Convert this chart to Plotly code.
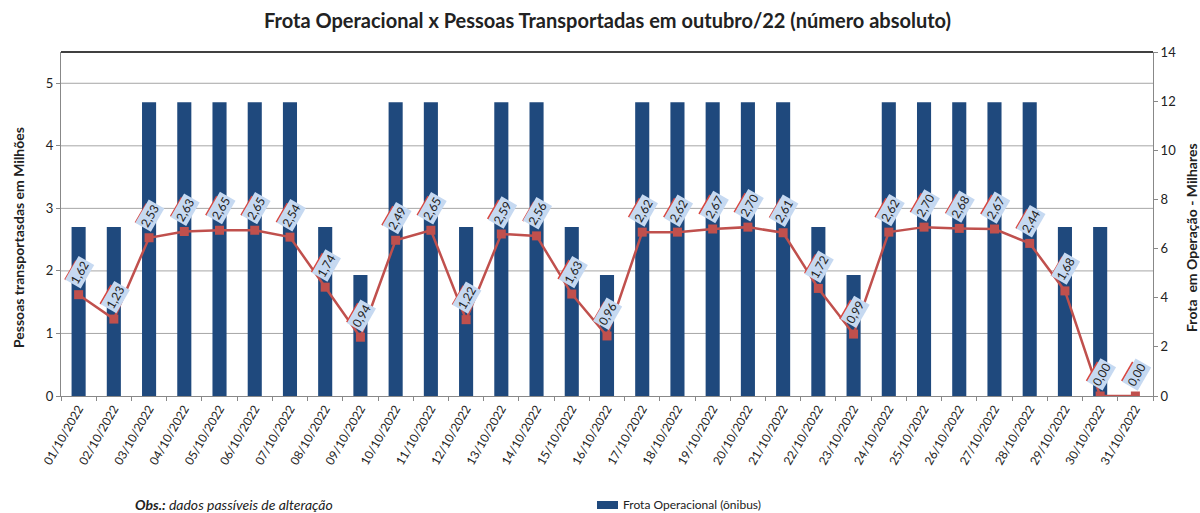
import plotly.graph_objects as go

dates = [f"{d:02d}/10/2022" for d in range(1, 32)]
pessoas = [1.62, 1.23, 2.53, 2.63, 2.65, 2.65, 2.54, 1.74, 0.94, 2.49, 2.65,
           1.22, 2.59, 2.56, 1.63, 0.96, 2.62, 2.62, 2.67, 2.70, 2.61, 1.72,
           0.99, 2.62, 2.70, 2.68, 2.67, 2.44, 1.68, 0.00, 0.00]
frota = [6.88, 6.88, 11.95, 11.95, 11.95, 11.95, 11.95, 6.88, 4.92, 11.95, 11.95,
         6.88, 11.95, 11.95, 6.88, 4.92, 11.95, 11.95, 11.95, 11.95, 11.95, 6.88,
         4.92, 11.95, 11.95, 11.95, 11.95, 11.95, 6.88, 6.88, 0.0]
left_ticks = [0, 1, 2, 3, 4, 5]
right_ticks = list(range(0, 15, 2))
legend_label = "Frota Operacional (ônibus)"

FONT = "Lato"
BLUE = "#1f497d"
RED = "#c0504d"
TXT = "#222222"

# plot area in pixels: x 61..1153, y 52..396
PL, PR, PT, PB = 61, 1153, 52, 396
W, H = PR - PL, PB - PT


def px_x(p):
    return (p - PL) / W


def px_y(p):
    return (PB - p) / H


fig = go.Figure()
# bars on base axis (right side), line on overlaying axis (left side) so the line draws on top
fig.add_trace(go.Bar(
    x=dates, y=frota, yaxis="y", name=legend_label, showlegend=False,
    marker=dict(color=BLUE, line=dict(width=0)), width=0.4,
))
fig.add_trace(go.Scatter(
    x=dates, y=pessoas, yaxis="y2", mode="lines+markers", showlegend=False,
    line=dict(color=RED, width=2.5),
    marker=dict(symbol="square", size=9, color=RED),
))

for t in left_ticks[1:]:
    fig.add_shape(type="line", xref="paper", yref="y2", x0=0, x1=1, y0=t, y1=t,
                  layer="below", line=dict(color="#a6a6a6", width=1))

for d, v in zip(dates, pessoas):
    fig.add_annotation(
        x=d, y=v, xref="x", yref="y2", yshift=22, xshift=1,
        text=f"{v:.2f}".replace(".", ","), showarrow=False, textangle=-60,
        bgcolor="#c6d9f1", borderpad=1,
        font=dict(family=FONT, size=12, color=TXT),
    )
    # red edge of the label frame
    fig.add_shape(
        type="line", xref="x", yref="y2", xsizemode="pixel", ysizemode="pixel",
        xanchor=d, yanchor=v, x0=-13.5, y0=15, x1=-2.5, y1=34,
        line=dict(color="#d9463f", width=2), layer="above",
    )

fig.add_annotation(
    x=px_x(133), y=px_y(505), xref="paper", yref="paper", showarrow=False,
    text="<b><i>Obs.:</i></b><i> dados passíveis de alteração</i>",
    font=dict(family=FONT, size=14, color=TXT), xanchor="left", yanchor="middle",
)
# legend (drawn manually so it does not push the margins)
fig.add_shape(type="rect", xref="paper", yref="paper",
              x0=px_x(597), x1=px_x(618), y0=px_y(509), y1=px_y(501),
              fillcolor=BLUE, line=dict(width=0))
fig.add_annotation(
    x=px_x(621), y=px_y(505), xref="paper", yref="paper", showarrow=False,
    text=legend_label, font=dict(family=FONT, size=12, color=TXT),
    xanchor="left", yanchor="middle",
)
fig.add_annotation(
    x=0.5, y=px_y(20), xref="paper", yref="paper", showarrow=False,
    text="<b>Frota Operacional x Pessoas Transportadas em outubro/22 (número absoluto)</b>",
    font=dict(family=FONT, size=20, color=TXT), xanchor="center", yanchor="middle",
)
fig.add_annotation(
    x=px_x(18), y=px_y(238), xref="paper", yref="paper", showarrow=False,
    text="<b>Pessoas transportasdas em Milhões</b>", textangle=-90,
    font=dict(family=FONT, size=14, color=TXT), xanchor="center", yanchor="middle",
)
fig.add_annotation(
    x=px_x(1191), y=px_y(238), xref="paper", yref="paper", showarrow=False,
    text="<b>Frota  em Operação - Milhares</b>", textangle=-90,
    font=dict(family=FONT, size=14, color=TXT), xanchor="center", yanchor="middle",
)

fig.add_shape(type="line", xref="paper", yref="paper", x0=0, x1=1, y0=1, y1=1,
              line=dict(color="black", width=1.5))

fig.update_layout(
    width=1200, height=513,
    margin=dict(l=PL, r=1200 - PR, t=PT, b=513 - PB),
    paper_bgcolor="white", plot_bgcolor="white",
    font=dict(family=FONT, size=12, color=TXT),
    showlegend=False,
    xaxis=dict(type="category", range=[-0.5, len(dates) - 0.5], autorange=False,
               tickangle=-60, tickfont=dict(size=12),
               showgrid=False, showline=True, linecolor="#888888", automargin=False,
               ticks="outside", tickson="boundaries", ticklen=4, tickcolor="#888888"),
    yaxis=dict(range=[0, 14], tickvals=right_ticks, side="right", showgrid=False,
               showline=True, linecolor="#888888", automargin=False,
               ticks="outside", ticklen=4, tickcolor="#888888", zeroline=False,
               tickfont=dict(size=13)),
    yaxis2=dict(range=[0, 5.5], tickvals=left_ticks, overlaying="y", side="left",
                showgrid=False, showline=True, linecolor="#888888", automargin=False,
                ticks="outside", ticklen=4, tickcolor="#888888", zeroline=False,
                tickfont=dict(size=13)),
    bargap=0.6,
)

fig.write_html(
    "out.html",
    config={"displayModeBar": False},
    post_script="document.body.style.margin='0';"
                "document.documentElement.style.overflow='hidden';"
                "document.body.style.overflow='hidden';",
)
